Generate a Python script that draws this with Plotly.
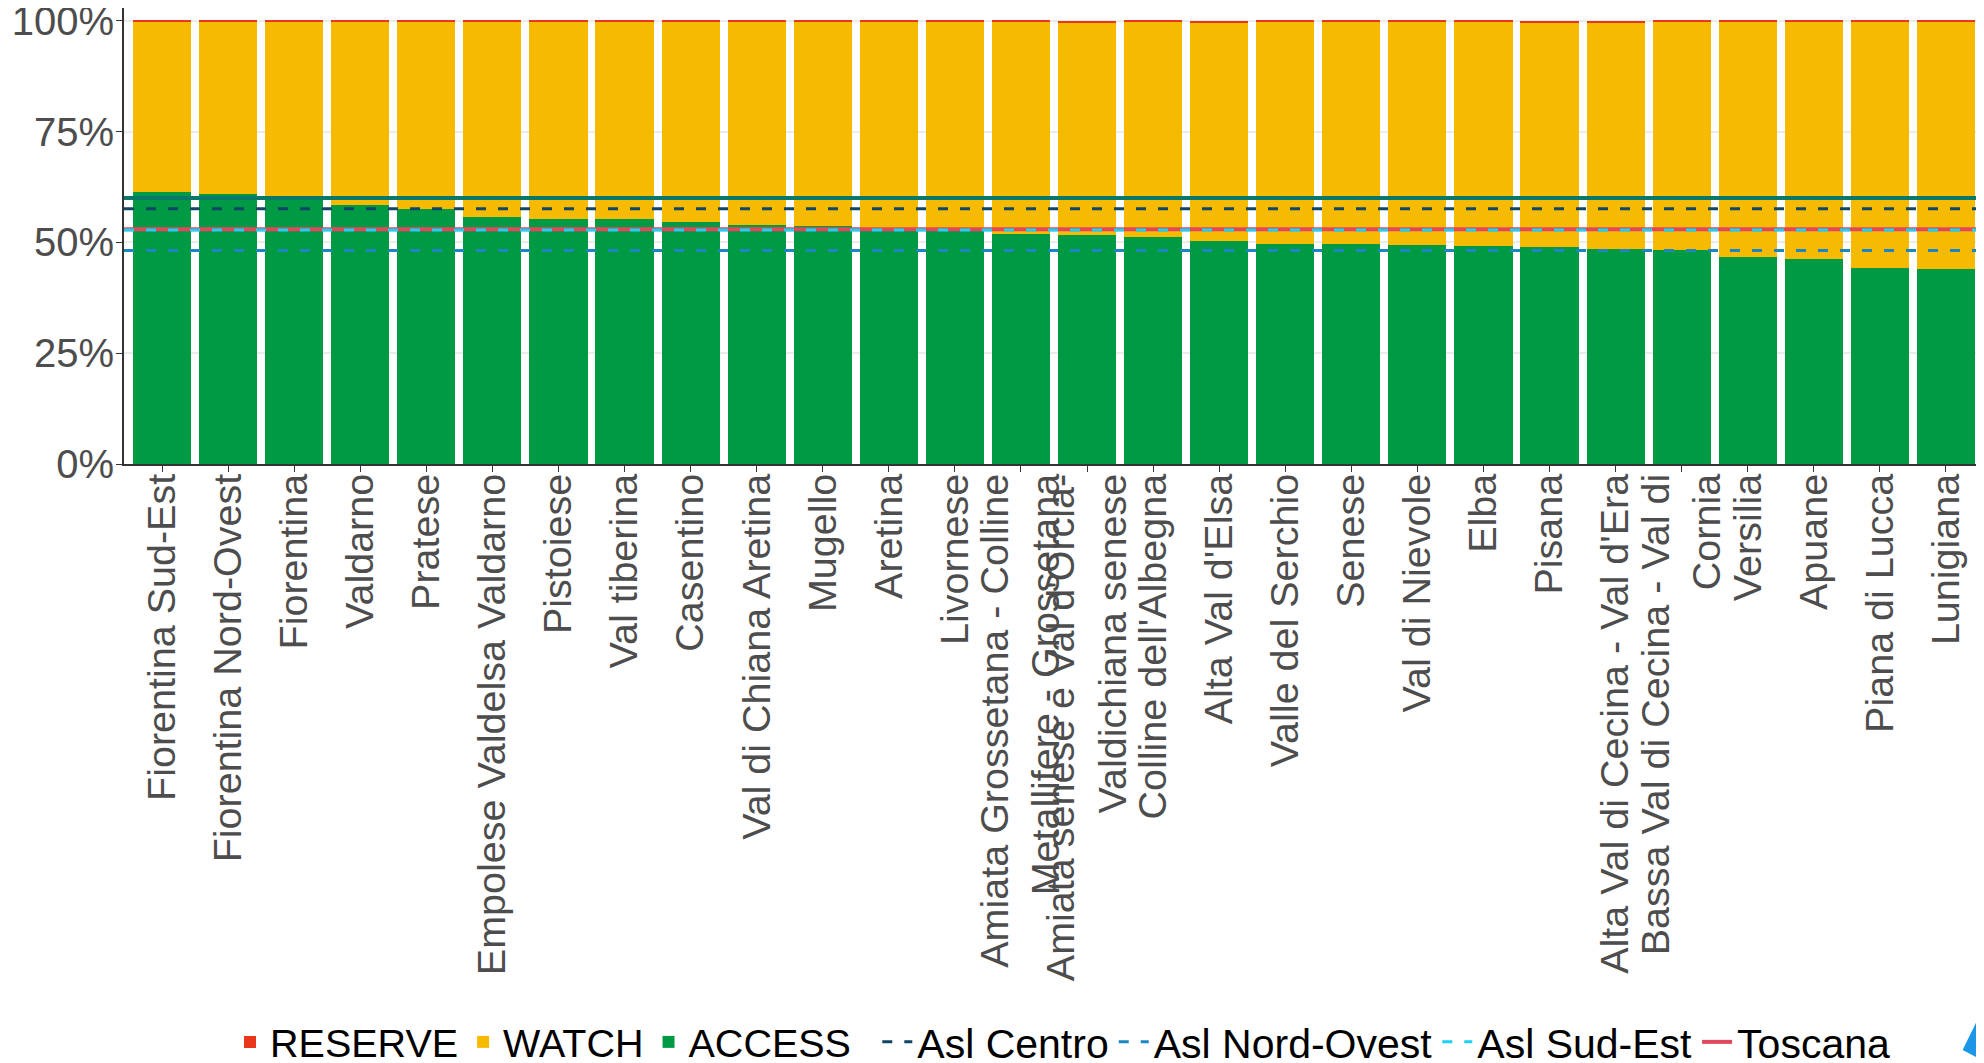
import plotly.graph_objects as go

# distretti, ordinati per quota ACCESS
distretti = [
    "Fiorentina Sud-Est", "Fiorentina Nord-Ovest", "Fiorentina", "Valdarno", "Pratese",
    "Empolese Valdelsa Valdarno", "Pistoiese", "Val tiberina", "Casentino",
    "Val di Chiana Aretina", "Mugello", "Aretina", "Livornese",
    "Amiata Grossetana - Colline<br>Metallifere - Grossetana",
    "Amiata senese e Val d'Orcia-<br>Valdichiana senese",
    "Colline dell'Albegna", "Alta Val d'Elsa", "Valle del Serchio", "Senese",
    "Val di Nievole", "Elba", "Pisana", "Alta Val di Cecina - Val d'Era",
    "Bassa Val di Cecina - Val di<br>Cornia", "Versilia", "Apuane", "Piana di Lucca", "Lunigiana",
]
access = [61.3, 61.0, 60.1, 58.5, 57.6, 55.8, 55.4, 55.3, 54.7, 54.0, 53.8, 53.0, 52.6, 52.0,
          51.6, 51.2, 50.3, 49.7, 49.6, 49.4, 49.3, 49.0, 48.6, 48.4, 46.8, 46.3, 44.3, 44.0]
watch = [38.6, 38.95, 39.7, 41.45, 42.3, 44.1, 44.5, 44.5, 45.1, 45.9, 46.1, 46.95, 47.3, 47.9,
         48.0, 48.7, 49.4, 50.1, 50.2, 50.5, 50.6, 50.7, 51.0, 51.5, 53.1, 53.65, 55.5, 55.95]
reserve = [0.1, 0.05, 0.2, 0.05, 0.1, 0.1, 0.1, 0.2, 0.2, 0.1, 0.1, 0.05, 0.1, 0.1,
           0.4, 0.1, 0.3, 0.2, 0.2, 0.1, 0.1, 0.3, 0.4, 0.1, 0.1, 0.05, 0.2, 0.05]

# medie di riferimento (% ACCESS)
asl_nomi = ["Asl Centro", "Asl Nord-Ovest", "Asl Sud-Est", "Toscana"]
asl_valori = [57.6, 48.2, 52.8, 53.0]
asl_colori = ["#0f4565", "#1b86c2", "#1fd0f6", "#e2485c"]
asl_dash = ["10px,12px", "10px,12px", "10px,12px", "solid"]
asl_width = [3, 3, 3, 4]
target = 60

y_ticks = [0, 25, 50, 75, 100]
y_ticktext = ["0%", "25%", "50%", "75%", "100%"]

FONT = "Liberation Sans, Arial, sans-serif"

fig = go.Figure()
for name, vals, color, rank in [("ACCESS", access, "#009a44", 3),
                                ("WATCH", watch, "#f6bb00", 2),
                                ("RESERVE", reserve, "#e8371b", 1)]:
    fig.add_trace(go.Bar(
        x=distretti, y=vals, name=name, marker_color=color,
        marker_line_width=0, legendrank=rank, legend="legend",
    ))

# Toscana first so the dashed Sud-Est line sits on top of it
for i in [3, 0, 1, 2]:
    fig.add_trace(go.Scatter(
        x=[0, 1], y=[asl_valori[i]] * 2, xaxis="x2", mode="lines",
        line=dict(color=asl_colori[i], width=asl_width[i], dash=asl_dash[i]),
        name=asl_nomi[i], legendrank=4 + i, legend="legend2",
    ))

fig.add_hline(y=target, line_color="#0a7868", line_width=4)

# page body adds 8px around the div, so the figure is 8px smaller than the window
fig.update_layout(
    width=1976, height=1055,
    barmode="stack", bargap=0.12,
    paper_bgcolor="white", plot_bgcolor="white",
    margin=dict(l=116, r=0, t=0, b=599, autoexpand=False),
    font=dict(family=FONT, size=40, color="#4d4d4d"),
    showlegend=True,
    legend=dict(orientation="h", x=0.057, xanchor="left", y=-1.268, yanchor="middle",
                font=dict(size=39.5, color="black"), traceorder="normal",
                itemwidth=30, bgcolor="rgba(0,0,0,0)"),
    legend2=dict(orientation="h", x=0.405, xanchor="left", y=-1.268, yanchor="middle",
                 font=dict(size=41, color="black"), traceorder="normal",
                 itemwidth=30, bgcolor="rgba(0,0,0,0)"),
    xaxis=dict(range=[-0.576, 27.576], tickangle=-90, showline=True, linecolor="#333333",
               linewidth=2, ticks="outside", ticklen=6, tickcolor="#333333",
               tickfont=dict(size=39.5, color="#4d4d4d"), automargin=False, showgrid=False,
               ticklabelstandoff=-14),
    xaxis2=dict(overlaying="x", range=[0, 1], visible=False, fixedrange=True),
    yaxis=dict(range=[0, 102.9], tickmode="array", tickvals=y_ticks, ticktext=y_ticktext,
               showline=True, linecolor="#333333", linewidth=2, ticks="outside",
               ticklen=6, tickcolor="#333333", gridcolor="#ebebeb", gridwidth=1.5,
               zeroline=False, tickfont=dict(size=40, color="#4d4d4d"), automargin=False,
               ticklabeloverflow="allow", ticklabelstandoff=-6),
)

# blue badge cut off in the bottom-right corner
fig.add_shape(type="path", xref="paper", yref="paper", fillcolor="#1c96e6", line_width=0,
              path="M 0.9885,-1.285 L 1.0,-1.19 L 1.0,-1.31 Z")

fig.write_html("out.html")
